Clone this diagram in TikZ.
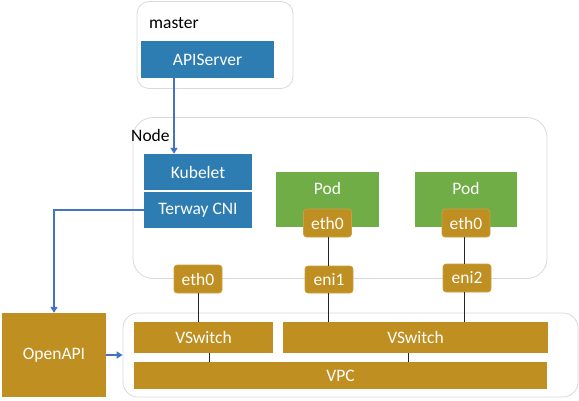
\documentclass[tikz,border=0pt]{standalone}
\usepackage{fontspec}
\setmainfont{Carlito}
\usetikzlibrary{arrows.meta}
\definecolor{bluebox}{RGB}{46,125,178}
\definecolor{podgreen}{RGB}{112,173,71}
\definecolor{gold}{RGB}{191,143,34}
\definecolor{arrowblue}{RGB}{68,114,196}
\definecolor{grpline}{RGB}{217,217,217}
\begin{document}
\begin{tikzpicture}[x=1pt,y=-1pt,
  font=\fontsize{17.5}{20}\selectfont,
  group/.style={draw=grpline,line width=0.8pt,fill=white,rounded corners=#1,inner sep=0pt},
  bbox/.style={fill=bluebox,text=white,inner sep=0pt},
  gbox/.style={fill=podgreen,inner sep=0pt},
  nic/.style={fill=gold,text=white,rounded corners=3pt,inner sep=0pt,minimum width=48pt,minimum height=28pt,draw=gold!85!white,line width=0.6pt},
  gold box/.style={fill=gold,text=white,inner sep=0pt},
  wtext/.style={text=white,inner sep=0pt},
  btext/.style={text=black,inner sep=0pt},
  link/.style={draw=black!85,line width=0.8pt},
  flow/.style={draw=arrowblue,line width=1.8pt,-{Triangle[length=6pt,width=7pt]}}
]
\useasboundingbox (0,0) rectangle (579,400);
% master
\node[group=12pt,minimum width=156pt,minimum height=87pt] (master) at (215,45) {};
\node[btext,anchor=west] (mastertxt) at (149,23) {master};
\node[bbox,minimum width=133pt,minimum height=37pt] (api) at (207.5,59.5) {APIServer};
% Node group
\node[group=20pt,minimum width=414pt,minimum height=161pt] (nodegrp) at (340,198) {};
\node[btext,anchor=west] (nodetxt) at (131,135) {Node};
\node[bbox,minimum width=108pt,minimum height=36pt] (kubelet) at (198,172) {Kubelet};
\node[bbox,minimum width=108pt,minimum height=36pt] (terway) at (198,210) {Terway CNI};
\node[gbox,minimum width=103pt,minimum height=55pt] (pod1) at (327.5,199.5) {};
\node[wtext] (pod1t) at (327.5,188) {Pod};
\node[gbox,minimum width=102pt,minimum height=55pt] (pod2) at (466,199.5) {};
\node[wtext] (pod2t) at (466,188) {Pod};
\node[nic] (eth0a) at (327.5,223) {eth0};
\node[nic] (eth0b) at (466,223) {eth0};
\node[nic,minimum height=27pt] (eni1) at (329,279.5) {eni1};
\node[nic] (eni2) at (467,278) {eni2};
\node[nic] (eth0n) at (198,279) {eth0};
% VPC group
\node[group=15pt,minimum width=455pt,minimum height=84pt] (vpcgrp) at (350.5,355) {};
\node[gold box,minimum width=139pt,minimum height=31pt] (vs1) at (203.5,337.5) {VSwitch};
\node[gold box,minimum width=265pt,minimum height=31pt] (vs2) at (415.5,337.5) {VSwitch};
\node[gold box,minimum width=413pt,minimum height=27pt] (vpc) at (340.5,375.5) {VPC};
\node[gold box,minimum width=104pt,minimum height=84pt] (openapi) at (54,355) {OpenAPI};
% links
\draw[link] ([xshift=0.5pt]eth0a.south) -- ([xshift=0.5pt]eth0a.south |- eni1.north);
\draw[link] ([xshift=-1pt]eni1.south) -- ([xshift=-1pt]eni1.south |- vs2.north);
\draw[link] ([xshift=-2pt]eth0b.south) -- ([xshift=-2pt]eth0b.south |- eni2.north);
\draw[link] ([xshift=-3pt]eni2.south) -- ([xshift=-3pt]eni2.south |- vs2.north);
\draw[link] (eth0n.south) -- (eth0n.south |- vs1.north);
\draw[link] ([xshift=5.5pt]vs1.south) -- ([xshift=5.5pt]vs1.south |- vpc.north);
\draw[link] ([xshift=-7.5pt]vs2.south) -- ([xshift=-7.5pt]vs2.south |- vpc.north);
% arrows
\draw[flow] ([xshift=-33.5pt]api.south) -- ([xshift=-33.5pt]api.south |- kubelet.north);
\draw[flow] (terway.west) -| (openapi.north);
\draw[flow] (openapi.east) -- (vpcgrp.west);
\end{tikzpicture}
\end{document}
